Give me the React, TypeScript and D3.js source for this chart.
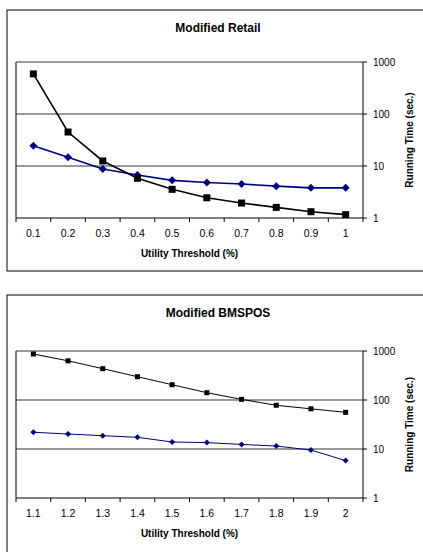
import React from "react";
import { scaleBand, scaleLog, line } from "d3";

const retailX = ["0.1", "0.2", "0.3", "0.4", "0.5", "0.6", "0.7", "0.8", "0.9", "1"];
const retailBlack = [590, 45, 12.5, 5.8, 3.56, 2.45, 1.94, 1.6, 1.32, 1.16];
const retailBlue = [24.5, 14.7, 8.75, 6.7, 5.3, 4.8, 4.5, 4.1, 3.8, 3.8];

const bmsposX = ["1.1", "1.2", "1.3", "1.4", "1.5", "1.6", "1.7", "1.8", "1.9", "2"];
const bmsposBlack = [868, 630, 436, 299, 205, 141, 103, 78, 66, 56];
const bmsposBlue = [22, 20.2, 18.7, 17.3, 13.9, 13.5, 12.4, 11.5, 9.5, 5.8];

const yTicks = [1, 10, 100, 1000];

const font = "'Liberation Sans', Arial, sans-serif";
const navy = "#000080";

function Panel({ top, boxBottom, plotTop, plotBottom, title, cats, black, blue, big }) {
  const left = 16,
    right = 363;

  const x = scaleBand().domain(cats).range([left, right]);
  const y = scaleLog().domain([1, 1000]).range([plotBottom, plotTop]);

  const lineGen = line()
    .x((d, i) => x(cats[i]) + x.bandwidth() / 2)
    .y(d => y(d));

  const sq = big ? 7 : 5;
  const dm = big ? 4 : 3;
  const lw = big ? 1.6 : 1;

  return (
    <g>
      <rect x={7} y={top} width={430} height={boxBottom - top} fill="white" stroke="black" strokeWidth={1} />
      <text x={218} y={top + 22} textAnchor="middle" fontFamily={font} fontWeight="bold" fontSize={12}>
        {title}
      </text>

      {yTicks.map(t => (
        <g key={t}>
          {t > 1 && (
            <line x1={left} x2={right} y1={y(t)} y2={y(t)} stroke="black" strokeWidth={0.8} />
          )}
          <line x1={right} x2={right + 4} y1={y(t)} y2={y(t)} stroke="black" />
          <text x={right + 10} y={y(t) + 3.5} fontFamily={font} fontSize={10}>
            {t}
          </text>
        </g>
      ))}
      <line x1={left} x2={left} y1={plotTop} y2={plotBottom} stroke="black" />
      <line x1={right} x2={right} y1={plotTop} y2={plotBottom + 4} stroke="black" />
      <line x1={left} x2={right} y1={plotBottom} y2={plotBottom} stroke="black" />

      {cats.map((c, i) => (
        <g key={c}>
          <line x1={x(c)} x2={x(c)} y1={plotBottom} y2={plotBottom + 4} stroke="black" />
          <text
            x={x(c) + x.bandwidth() / 2}
            y={plotBottom + 19}
            textAnchor="middle"
            fontFamily={font}
            fontSize={10.5}
          >
            {c}
          </text>
        </g>
      ))}
      <text
        x={(left + right) / 2}
        y={plotBottom + 39}
        textAnchor="middle"
        fontFamily={font}
        fontWeight="bold"
        fontSize={10}
      >
        Utility Threshold (%)
      </text>
      <text
        transform={`translate(413, ${(plotTop + plotBottom) / 2}) rotate(-90)`}
        textAnchor="middle"
        fontFamily={font}
        fontWeight="bold"
        fontSize={10}
      >
        Running Time (sec.)
      </text>

      <path d={lineGen(blue)} fill="none" stroke={navy} strokeWidth={lw} />
      {blue.map((v, i) => {
        const cx = x(cats[i]) + x.bandwidth() / 2,
          cy = y(v);
        return (
          <path
            key={"b" + i}
            d={`M${cx},${cy - dm}L${cx + dm},${cy}L${cx},${cy + dm}L${cx - dm},${cy}Z`}
            fill={navy}
          />
        );
      })}

      <path d={lineGen(black)} fill="none" stroke="black" strokeWidth={lw} />
      {black.map((v, i) => (
        <rect
          key={"k" + i}
          x={x(cats[i]) + x.bandwidth() / 2 - sq / 2}
          y={y(v) - sq / 2}
          width={sq}
          height={sq}
          fill="black"
        />
      ))}
    </g>
  );
}

export default function App() {
  return (
    <svg
      width={423}
      height={552}
      style={{ position: "absolute", left: 0, top: 0, background: "white" }}
    >
      <Panel
        top={10}
        boxBottom={271}
        plotTop={62}
        plotBottom={218}
        title="Modified Retail"
        cats={retailX}
        black={retailBlack}
        blue={retailBlue}
        big={true}
      />
      <Panel
        top={295}
        boxBottom={560}
        plotTop={351}
        plotBottom={498}
        title="Modified BMSPOS"
        cats={bmsposX}
        black={bmsposBlack}
        blue={bmsposBlue}
        big={false}
      />
    </svg>
  );
}
